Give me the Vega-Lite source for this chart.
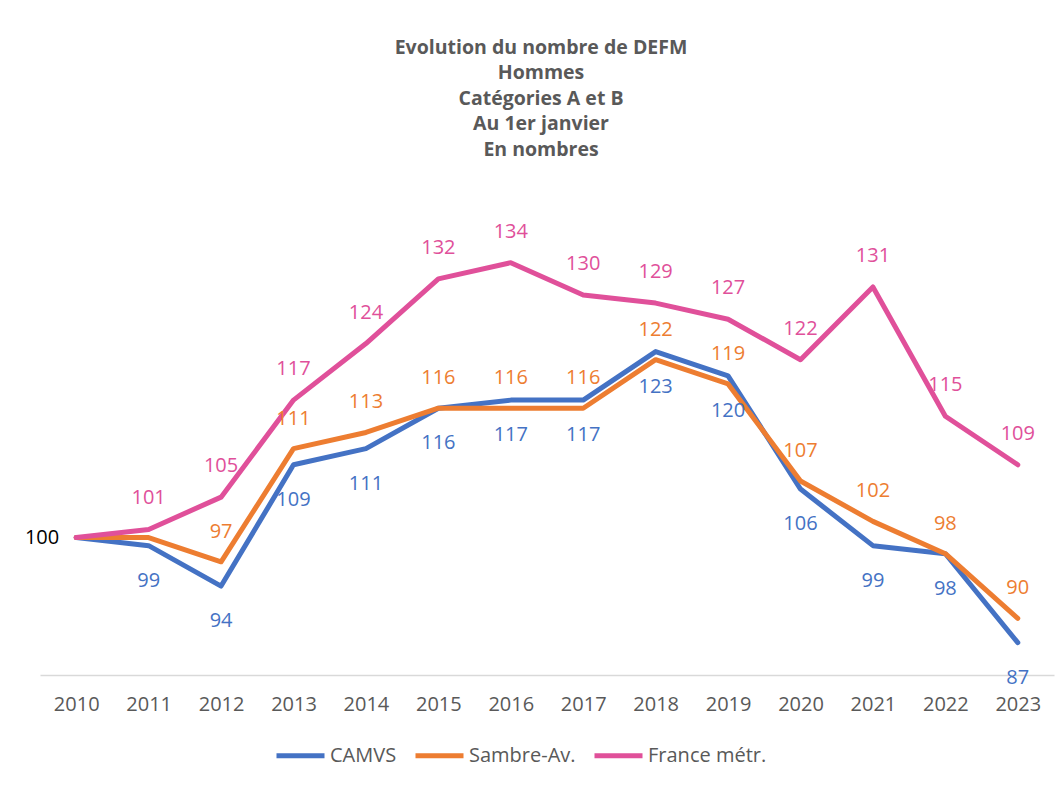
{
  "$schema": "https://vega.github.io/schema/vega-lite/v6.json",
  "width": 1014,
  "height": 477,
  "autosize": {"type": "none"},
  "padding": {"left": 40, "top": 198, "right": 7, "bottom": 115},
  "background": "white",
  "config": {"font": "Open Sans", "view": {"stroke": null}},
  "title": {
    "text": ["Evolution du nombre de DEFM", "Hommes", "Catégories A et B", "Au 1er janvier", "En nombres"],
    "font": "Open Sans",
    "fontSize": 19.5,
    "fontWeight": "bold",
    "color": "#595959",
    "lineHeight": 25.5,
    "anchor": "middle",
    "frame": "group",
    "offset": 38,
    "dx": -6
  },
  "data": {
    "values": [
      {"series": "CAMVS", "year": "2010", "value": 100},
      {"series": "CAMVS", "year": "2011", "value": 99},
      {"series": "CAMVS", "year": "2012", "value": 94},
      {"series": "CAMVS", "year": "2013", "value": 109},
      {"series": "CAMVS", "year": "2014", "value": 111},
      {"series": "CAMVS", "year": "2015", "value": 116},
      {"series": "CAMVS", "year": "2016", "value": 117},
      {"series": "CAMVS", "year": "2017", "value": 117},
      {"series": "CAMVS", "year": "2018", "value": 123},
      {"series": "CAMVS", "year": "2019", "value": 120},
      {"series": "CAMVS", "year": "2020", "value": 106},
      {"series": "CAMVS", "year": "2021", "value": 99},
      {"series": "CAMVS", "year": "2022", "value": 98},
      {"series": "CAMVS", "year": "2023", "value": 87},
      {"series": "Sambre-Av.", "year": "2010", "value": 100},
      {"series": "Sambre-Av.", "year": "2011", "value": 100},
      {"series": "Sambre-Av.", "year": "2012", "value": 97},
      {"series": "Sambre-Av.", "year": "2013", "value": 111},
      {"series": "Sambre-Av.", "year": "2014", "value": 113},
      {"series": "Sambre-Av.", "year": "2015", "value": 116},
      {"series": "Sambre-Av.", "year": "2016", "value": 116},
      {"series": "Sambre-Av.", "year": "2017", "value": 116},
      {"series": "Sambre-Av.", "year": "2018", "value": 122},
      {"series": "Sambre-Av.", "year": "2019", "value": 119},
      {"series": "Sambre-Av.", "year": "2020", "value": 107},
      {"series": "Sambre-Av.", "year": "2021", "value": 102},
      {"series": "Sambre-Av.", "year": "2022", "value": 98},
      {"series": "Sambre-Av.", "year": "2023", "value": 90},
      {"series": "France métr.", "year": "2010", "value": 100},
      {"series": "France métr.", "year": "2011", "value": 101},
      {"series": "France métr.", "year": "2012", "value": 105},
      {"series": "France métr.", "year": "2013", "value": 117},
      {"series": "France métr.", "year": "2014", "value": 124},
      {"series": "France métr.", "year": "2015", "value": 132},
      {"series": "France métr.", "year": "2016", "value": 134},
      {"series": "France métr.", "year": "2017", "value": 130},
      {"series": "France métr.", "year": "2018", "value": 129},
      {"series": "France métr.", "year": "2019", "value": 127},
      {"series": "France métr.", "year": "2020", "value": 122},
      {"series": "France métr.", "year": "2021", "value": 131},
      {"series": "France métr.", "year": "2022", "value": 115},
      {"series": "France métr.", "year": "2023", "value": 109}
    ]
  },
  "encoding": {
    "x": {
      "field": "year",
      "type": "ordinal",
      "sort": null,
      "scale": {"type": "point", "padding": 0.5},
      "axis": {
        "title": null,
        "labelAngle": 0,
        "ticks": false,
        "tickSize": 0,
        "grid": false,
        "domainColor": "#D9D9D9",
        "domainWidth": 1.5,
        "labelFont": "Open Sans",
        "labelFontSize": 20,
        "labelColor": "#595959",
        "labelPadding": 19
      }
    },
    "y": {
      "field": "value",
      "type": "quantitative",
      "scale": {"domain": [83, 142], "nice": false, "zero": false},
      "axis": null
    },
    "color": {
      "field": "series",
      "type": "nominal",
      "scale": {
        "domain": ["CAMVS", "Sambre-Av.", "France métr."],
        "range": ["#4472C4", "#ED7D31", "#E0509A"]
      },
      "legend": {
        "title": null,
        "orient": "none",
        "legendX": 234,
        "legendY": 531,
        "direction": "horizontal",
        "symbolType": "stroke",
        "symbolSize": 2304,
        "symbolStrokeWidth": 5,
        "labelFont": "Open Sans",
        "labelFontSize": 20,
        "labelColor": "#595959",
        "labelOffset": 3,
        "columnPadding": 8
      }
    }
  },
  "layer": [
    {
      "mark": {"type": "line", "strokeWidth": 5, "strokeCap": "round", "strokeJoin": "round"},
      "encoding": {"detail": {"field": "series"}}
    },
    {
      "transform": [{"filter": "datum.series == 'CAMVS' && datum.year != '2010'"}],
      "mark": {"type": "text", "fontSize": 20, "font": "Open Sans", "baseline": "middle", "dy": 35},
      "encoding": {"text": {"field": "value", "type": "quantitative"}}
    },
    {
      "transform": [{"filter": "datum.series == 'Sambre-Av.' && datum.year != '2010' && datum.year != '2011'"}],
      "mark": {"type": "text", "fontSize": 20, "font": "Open Sans", "baseline": "middle", "dy": -30},
      "encoding": {"text": {"field": "value", "type": "quantitative"}}
    },
    {
      "transform": [{"filter": "datum.series == 'France métr.' && datum.year != '2010'"}],
      "mark": {"type": "text", "fontSize": 20, "font": "Open Sans", "baseline": "middle", "dy": -31},
      "encoding": {"text": {"field": "value", "type": "quantitative"}}
    },
    {
      "transform": [{"filter": "datum.series == 'CAMVS' && datum.year == '2010'"}],
      "mark": {"type": "text", "fontSize": 20, "font": "Open Sans", "baseline": "middle", "align": "right", "dx": -17, "color": "#000000"},
      "encoding": {"text": {"field": "value", "type": "quantitative"}, "color": {"value": "#000000"}}
    }
  ]
}
